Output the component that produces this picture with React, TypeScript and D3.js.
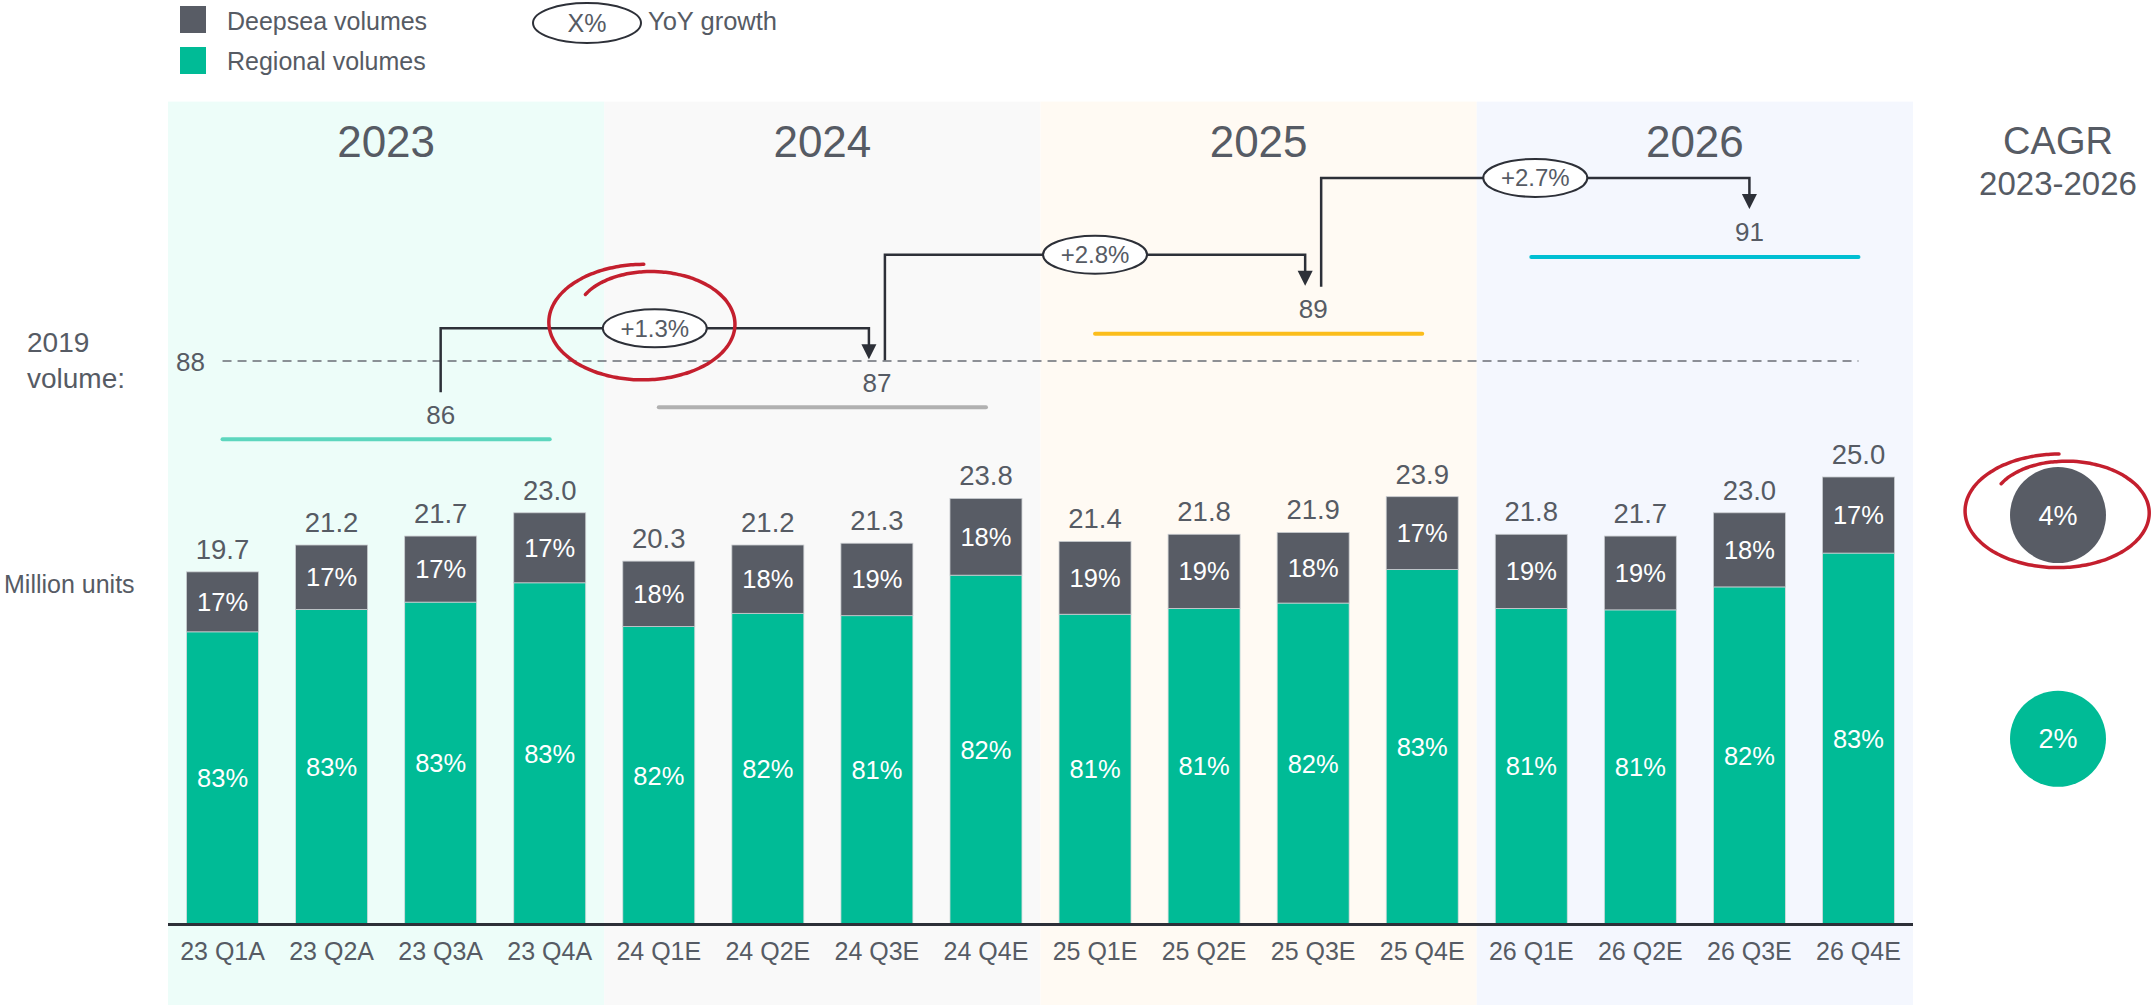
import React from 'react';
import * as d3 from 'd3';

// chart data
const quarters = [
  '23 Q1A', '23 Q2A', '23 Q3A', '23 Q4A',
  '24 Q1E', '24 Q2E', '24 Q3E', '24 Q4E',
  '25 Q1E', '25 Q2E', '25 Q3E', '25 Q4E',
  '26 Q1E', '26 Q2E', '26 Q3E', '26 Q4E',
];
const totals = [19.7, 21.2, 21.7, 23.0, 20.3, 21.2, 21.3, 23.8, 21.4, 21.8, 21.9, 23.9, 21.8, 21.7, 23.0, 25.0];
const deepseaShare = [17, 17, 17, 17, 18, 18, 19, 18, 19, 19, 18, 17, 19, 19, 18, 17];
const regionalShare = [83, 83, 83, 83, 82, 82, 81, 82, 81, 81, 82, 83, 81, 81, 82, 83];
const years = ['2023', '2024', '2025', '2026'];
const annualTotals = [85.6, 86.6, 88.9, 91.3];
const yoyGrowth = ['+1.3%', '+2.8%', '+2.7%'];
const cagrLabels = ['4%', '2%'];
const volume2019 = 88;

// styles
const FONT = "'Liberation Sans', Arial, sans-serif";
const TEXT = '#565b64';
const DARK = '#2d3038';
const DEEPSEA = '#585c65';
const REGIONAL = '#00bb96';
const RED = '#c41f2e';
const bandFills = ['#edfdf9', '#f9f9f9', '#fffaf3', '#f4f7fe'];
const yearLineColors = ['#5dd6be', '#b1b1b1', '#fbbd1b', '#00bfd3'];

const W = 2154;
const H = 1005;

// hand drawn red ring around a highlighted label
const scribble = (cx: number, cy: number, rx: number, ry: number) => {
  const pts = d3.range(0, 1.0001, 1 / 160).map((t) => {
    const th = ((-90 - t * 412) * Math.PI) / 180;
    const k = 1 - 0.22 * Math.pow(t, 4);
    return [cx + rx * k * Math.cos(th), cy + ry * k * Math.sin(th)] as [number, number];
  });
  return d3.line().curve(d3.curveBasis)(pts) || '';
};

const App = () => {
  const x = d3.scaleBand().domain(quarters).range([168, 1913]).paddingInner(0.34).paddingOuter(0.17);
  const y = d3.scaleLinear().domain([0, 25]).range([924.5, 477]);
  const yA = d3.scaleLinear().domain([85, 92]).range([458.5, 234.5]);
  const bw = x.bandwidth();
  const gap = x.step() - bw;
  const cx = (q: string) => (x(q) as number) + bw / 2;
  const fmt = d3.format('.0f');

  const yearInfo = years.map((yr, i) => {
    const qs = quarters.slice(i * 4, i * 4 + 4);
    return {
      yr,
      x0: (x(qs[0]) as number) - gap / 2,
      x1: (x(qs[3]) as number) + bw + gap / 2,
      lineX0: cx(qs[0]),
      lineX1: cx(qs[3]),
      labelX: cx(qs[2]),
      lineY: yA(annualTotals[i]),
      labelY: yA(annualTotals[i]) - 25,
    };
  });

  const connectors = yoyGrowth.map((g, i) => {
    const s = yearInfo[i];
    const t = yearInfo[i + 1];
    const sx = s.labelX + (i > 0 ? 8 : 0);
    const tx = t.labelX - (i + 1 < years.length - 1 ? 8 : 0);
    const tipY = t.labelY - 23;
    const hy = tipY - 31;
    return { g, sx, sy: s.labelY - 22, tx, tipY, hy, mx: (sx + tx) / 2 };
  });

  const last = quarters.length - 1;
  const lastSplit = y(totals[last] * regionalShare[last] / 100);
  const cagrY = [(y(totals[last]) + lastSplit) / 2, (lastSplit + y(0)) / 2];
  const cagrX = 2058;

  return (
    <svg width={W} height={H} style={{ position: 'absolute', left: 0, top: 0, background: '#fff' }} fontFamily={FONT}>
      {/* year bands */}
      {yearInfo.map((d, i) => (
        <rect key={d.yr} x={d.x0} y={101.6} width={d.x1 - d.x0} height={H - 101.6} fill={bandFills[i]} />
      ))}
      {yearInfo.map((d) => (
        <text key={'t' + d.yr} x={(d.x0 + d.x1) / 2} y={157} textAnchor="middle" fontSize={44} fill={TEXT}>{d.yr}</text>
      ))}

      {/* legend */}
      <rect x={180} y={6} width={26} height={27} fill={DEEPSEA} />
      <rect x={180} y={47} width={26} height={27} fill={REGIONAL} />
      <text x={227} y={29.5} fontSize={25} fill={TEXT}>Deepsea volumes</text>
      <text x={227} y={69.5} fontSize={25} fill={TEXT}>Regional volumes</text>
      <ellipse cx={587} cy={23} rx={54} ry={20} fill="#fff" stroke={DARK} strokeWidth={2} />
      <text x={587} y={32} fontSize={25} textAnchor="middle" fill={TEXT}>X%</text>
      <text x={648} y={29.5} fontSize={25.5} fill={TEXT}>YoY growth</text>

      {/* 2019 reference */}
      <text x={27} y={352} fontSize={28} fill={TEXT}>2019</text>
      <text x={27} y={388} fontSize={28} fill={TEXT}>volume:</text>
      <text x={205} y={361.5 + 9.5} fontSize={26} textAnchor="end" fill={TEXT}>{volume2019}</text>
      <line x1={cx(quarters[0])} x2={cx(quarters[last])} y1={yA(volume2019) - 1.5} y2={yA(volume2019) - 1.5}
        stroke="#6a6e75" strokeWidth={1.6} strokeDasharray="9 6" />

      {/* annual totals */}
      {yearInfo.map((d, i) => (
        <g key={'a' + d.yr}>
          <line x1={d.lineX0} x2={d.lineX1} y1={d.lineY} y2={d.lineY} stroke={yearLineColors[i]} strokeWidth={4} strokeLinecap="round" />
          <text x={d.labelX} y={d.labelY + 9.5} fontSize={26} textAnchor="middle" fill={TEXT}>{fmt(annualTotals[i])}</text>
        </g>
      ))}

      {/* yoy connectors */}
      {connectors.map((c) => (
        <g key={c.g}>
          <path d={`M${c.sx},${c.sy}V${c.hy}H${c.tx}V${c.tipY - 14}`} fill="none" stroke={DARK} strokeWidth={2.5} />
          <path d={`M${c.tx - 7.5},${c.tipY - 15}L${c.tx + 7.5},${c.tipY - 15}L${c.tx},${c.tipY}Z`} fill={DARK} />
          <ellipse cx={c.mx} cy={c.hy} rx={52} ry={19} fill="#fff" stroke={DARK} strokeWidth={2} />
          <text x={c.mx} y={c.hy + 8.5} fontSize={24} textAnchor="middle" fill={TEXT}>{c.g}</text>
        </g>
      ))}
      <path d={scribble(connectors[0].mx - 11, connectors[0].hy - 6, 95, 58)} fill="none" stroke={RED} strokeWidth={3.5} strokeLinecap="round" />

      {/* bars */}
      {quarters.map((q, i) => {
        const split = totals[i] * regionalShare[i] / 100;
        const x0 = x(q) as number;
        return (
          <g key={q}>
            <rect x={x0} y={y(split)} width={bw} height={y(0) - y(split)} fill={REGIONAL} stroke="#d6dbdc" strokeWidth={0.8} />
            <rect x={x0} y={y(totals[i])} width={bw} height={y(split) - y(totals[i])} fill={DEEPSEA} stroke="#c9ccd0" strokeWidth={0.8} />
            <text x={x0 + bw / 2} y={(y(totals[i]) + y(split)) / 2 + 9} fontSize={25.5} textAnchor="middle" fill="#fff">{deepseaShare[i]}%</text>
            <text x={x0 + bw / 2} y={(y(split) + y(0)) / 2 + 9} fontSize={25.5} textAnchor="middle" fill="#fff">{regionalShare[i]}%</text>
            <text x={x0 + bw / 2} y={y(totals[i]) - 13} fontSize={27.5} textAnchor="middle" fill={TEXT}>{totals[i].toFixed(1)}</text>
            <text x={x0 + bw / 2} y={959.5} fontSize={25} textAnchor="middle" fill={TEXT}>{q}</text>
          </g>
        );
      })}
      <line x1={168} x2={1913} y1={y(0)} y2={y(0)} stroke={DARK} strokeWidth={3} />

      <text x={4} y={593} fontSize={25} fill={TEXT}>Million units</text>

      {/* CAGR */}
      <text x={cagrX} y={154} fontSize={38} textAnchor="middle" fill={TEXT}>CAGR</text>
      <text x={cagrX} y={195} fontSize={33} textAnchor="middle" fill={TEXT}>2023-2026</text>
      <circle cx={cagrX} cy={cagrY[0]} r={48} fill={DEEPSEA} />
      <circle cx={cagrX} cy={cagrY[1]} r={48} fill={REGIONAL} />
      {cagrLabels.map((c, i) => (
        <text key={c} x={cagrX} y={cagrY[i] + 9.5} fontSize={27} textAnchor="middle" fill="#fff">{c}</text>
      ))}
      <path d={scribble(cagrX + 1, cagrY[0] - 4, 94, 57)} fill="none" stroke={RED} strokeWidth={3.5} strokeLinecap="round" />
    </svg>
  );
};

export default App;
